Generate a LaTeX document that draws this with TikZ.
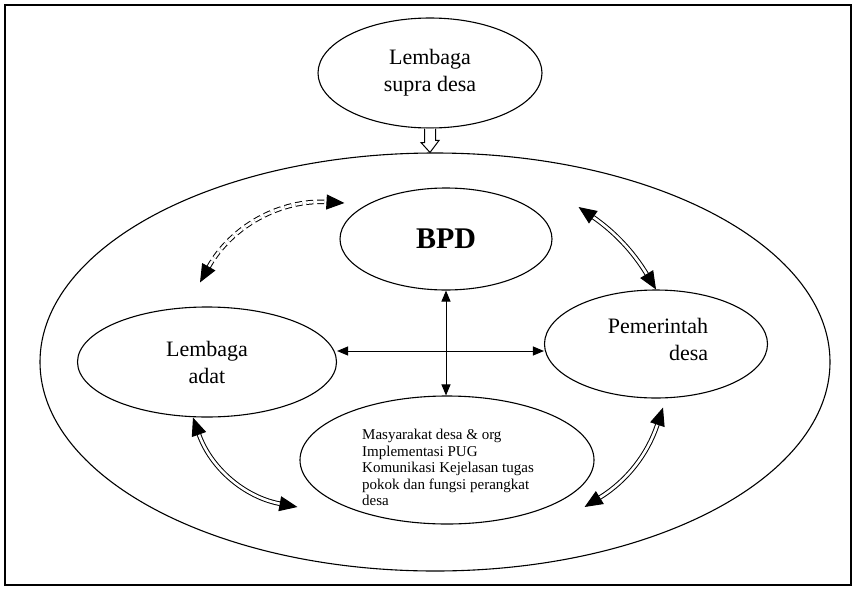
\documentclass[tikz,border=0pt]{standalone}
\usepackage{fontspec}
\setmainfont{Liberation Serif}
\usetikzlibrary{shapes.geometric,arrows.meta}

\begin{document}
\begin{tikzpicture}[
        x=1pt, y=-1pt,
        unit/.style={ellipse, draw, line width=1.1pt, inner sep=0pt},
        label text/.style={font=\fontsize{22}{27}\selectfont},
        link/.style={
            double, double distance=2.6pt, line width=1pt,
            {Triangle[length=18pt,width=15pt]}-{Triangle[length=18pt,width=15pt]}
        },
        dashlink/.style={link, dash pattern=on 7pt off 4pt},
        cross/.style={line width=1pt, {Triangle[length=11pt,width=9pt]}-{Triangle[length=11pt,width=9pt]}}
    ]
    \useasboundingbox (0,0) rectangle (856,589);
    \draw[line width=1.3pt] (5,5) rectangle (851,585);

    % the village and the units in it
    \node[unit, minimum width=790pt, minimum height=418pt] (village) at (435,362) {};
    \node[unit, label text, align=center, minimum width=224pt, minimum height=110pt] (supra) at (430,73) {Lembaga\\supra desa};
    \node[unit, minimum width=212pt, minimum height=102pt, font=\fontsize{30}{32}\selectfont\bfseries] (bpd) at (446,239) {BPD};
    \node[unit, label text, align=center, minimum width=259pt, minimum height=110pt] (adat) at (207,362) {Lembaga\\adat};
    \node[unit, minimum width=223pt, minimum height=108pt] (pem) at (656,344) {};
    \node[inner sep=0pt, label text] (pemtext) at ([shift={(2,-2)}]pem.center)
        {\begin{tabular}{@{}r@{}}Pemerintah\\desa\end{tabular}};
    \node[unit, minimum width=294pt, minimum height=128pt] (masy) at (447,460) {};
    \node[anchor=north west, inner sep=0pt, align=left, font=\fontsize{15}{16.5}\selectfont] (masytext)
        at ([shift={(-85,-31)}]masy.center)
        {Masyarakat desa \& org\\Implementasi PUG\\Komunikasi Kejelasan tugas\\pokok dan fungsi perangkat\\desa};

    % hollow arrow from supra desa
    \draw[line width=1pt, fill=white] ([xshift=-5.5pt]supra.south) -- ++(0,14) -- ++(-3.5,0)
        -- (supra.south |- village.north) -- ++(9,-12) -- ++(-3.5,0) -- ([xshift=5.5pt]supra.south);

    % links
    \draw[cross] (bpd.south) -- (bpd.south |- masy.north);
    \draw[cross] ([yshift=11pt]adat.east) -- ([yshift=11pt]adat.east -| pem.west);
    \draw[link] ([shift={(26,-32)}]bpd.east) to[bend left=12] (pem.north);
    \draw[link] ([xshift=-14pt]adat.south) to[bend right=30] ([shift={(-2,47)}]masy.west);
    \draw[link] ([shift={(-10,47)}]masy.east) to[bend right=20] ([shift={(7,9)}]pem.south);
    \draw[dashlink] ([shift={(-7,-24)}]adat.north) to[bend left=32] ([shift={(5,-36)}]bpd.west);
\end{tikzpicture}
\end{document}
